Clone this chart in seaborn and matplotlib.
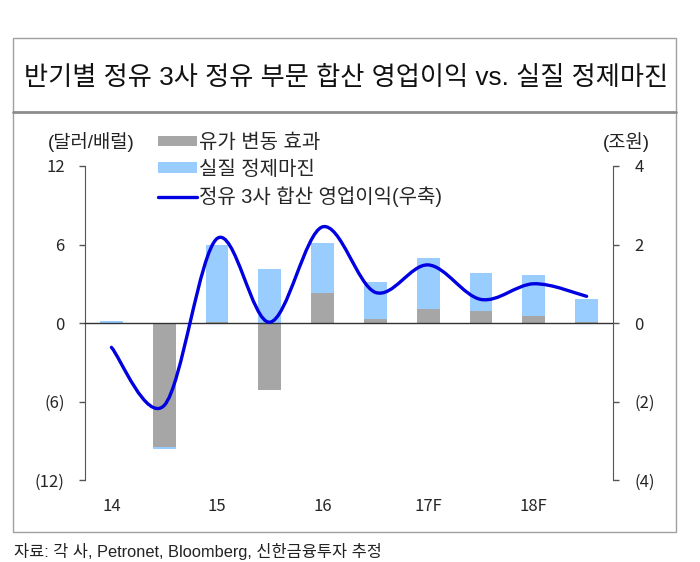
import numpy as np
import pandas as pd
import seaborn as sns
import matplotlib.pyplot as plt
from matplotlib.path import Path
from matplotlib.patches import PathPatch, Patch, Rectangle
from matplotlib.lines import Line2D

# half-year periods, 2014 ~ 2018F
periods = ['1H14', '2H14', '1H15', '2H15', '1H16', '2H16', '1H17', '2H17', '1H18', '2H18']
year_labels = ['14', '15', '16', '17F', '18F']
# 달러/배럴 (left axis)
oil_effect = [0.0, -9.5, 0.1, -5.15, 2.3, 0.3, 1.1, 0.9, 0.55, 0.05]
real_margin = [0.15, -0.1, 5.9, 4.15, 3.85, 2.8, 3.9, 2.95, 3.15, 1.8]
# 조원 (right axis)
op_profit = [-0.62, -2.1, 2.15, 0.02, 2.45, 0.78, 1.48, 0.6, 1.0, 0.68]

GREY = '#A6A6A6'
LIGHT_BLUE = '#99CCFF'
LINE_BLUE = '#0000E0'
AX_COLOR = '#555555'

sns.set_style('white')
plt.rcParams['font.family'] = ['Liberation Sans Narrow', 'Noto Sans CJK KR', 'DejaVu Sans']
KR = ['Liberation Sans', 'Noto Sans CJK KR', 'DejaVu Sans']


def smooth_path(xs, ys):
    # excel style smoothed line, cubic bezier segments through every point
    pts = np.column_stack([xs, ys]).astype(float)
    n = len(pts)
    verts = [pts[0]]
    codes = [Path.MOVETO]
    for i in range(n - 1):
        p0 = pts[max(i - 1, 0)]
        p1 = pts[i]
        p2 = pts[i + 1]
        p3 = pts[min(i + 2, n - 1)]
        verts += [p1 + (p2 - p0) / 6, p2 - (p3 - p1) / 6, p2]
        codes += [Path.CURVE4] * 3
    return Path(verts, codes)


df = pd.DataFrame({'period': periods, 'oil': oil_effect, 'margin': real_margin})
same_sign = np.sign(df['oil']) == np.sign(df['margin'])
df['margin_end'] = df['margin'] + np.where(same_sign, df['oil'], 0)

fig = plt.figure(figsize=(7, 5.62), dpi=100)
W, H = 700, 562
ax = fig.add_axes([85 / W, 1 - 480 / H, (613 - 85) / W, (480 - 166) / H])

sns.barplot(data=df, x='period', y='margin_end', color=LIGHT_BLUE, saturation=1,
            width=0.43, linewidth=0, edgecolor='none', ax=ax)
sns.barplot(data=df, x='period', y='oil', color=GREY, saturation=1,
            width=0.43, linewidth=0, edgecolor='none', ax=ax)

ax.set_xlim(-0.5, len(periods) - 0.5)
ax.set_ylim(-12, 12)
ax.set_yticks([-12, -6, 0, 6, 12], ['(12)', '(6)', '0', '6', '12'])
ax.set_xlabel('')
ax.set_ylabel('')
ax.tick_params(axis='y', length=4.5, width=1, color=AX_COLOR, pad=10, labelsize=12)

# zero line with ticks between periods
ax.spines['bottom'].set_position(('data', 0))
ax.spines['bottom'].set_color('#333333')
ax.spines['bottom'].set_linewidth(1)
ax.set_xticks(np.arange(len(periods) - 1) + 0.5)
ax.set_xticklabels([])
ax.tick_params(axis='x', length=4.5, width=1, color=AX_COLOR, direction='out')
ax.spines['top'].set_visible(False)
ax.spines['right'].set_visible(False)
ax.spines['left'].set_color(AX_COLOR)

sec = ax.secondary_xaxis('bottom')
sec.set_xticks(np.arange(0, len(periods), 2), year_labels)
sec.tick_params(length=0, pad=13, labelsize=12)
sec.spines['bottom'].set_visible(False)

ax2 = ax.twinx()
ax2.set_ylim(-4, 4)
ax2.set_yticks([-4, -2, 0, 2, 4], ['(4)', '(2)', '0', '2', '4'])
ax2.tick_params(axis='y', length=4.5, width=1, color=AX_COLOR, pad=11, labelsize=12)
for s in ['top', 'bottom', 'left']:
    ax2.spines[s].set_visible(False)
ax2.spines['right'].set_color(AX_COLOR)
ax2.add_patch(PathPatch(smooth_path(np.arange(len(periods)), op_profit),
                        fill=False, edgecolor=LINE_BLUE, lw=2.4, capstyle='round'))

# unit labels
fig.text(91 / W, 1 - 142 / H, '(달러/배럴)', ha='center', va='center',
         fontsize=13.5, family=KR, color='#222222')
fig.text(626 / W, 1 - 142 / H, '(조원)', ha='center', va='center',
         fontsize=13.5, family=KR, color='#222222')

handles = [Patch(facecolor=GREY, edgecolor='none'),
           Patch(facecolor=LIGHT_BLUE, edgecolor='none'),
           Line2D([], [], color=LINE_BLUE, lw=2.4)]
labels = ['유가 변동 효과', '실질 정제마진', '정유 3사 합산 영업이익(우축)']
fig.legend(handles, labels, loc='upper left', bbox_to_anchor=(158 / W, 1 - 133 / H),
           frameon=False, borderpad=0, borderaxespad=0, handlelength=1.95,
           handleheight=0.4, handletextpad=0.12, labelspacing=0.38,
           prop={'family': KR, 'size': 14.4})

# frame, title, source
fig.patches.append(Rectangle((13 / W, 1 - 532 / H), (676 - 13) / W, (532 - 38) / H,
                             transform=fig.transFigure, fill=False,
                             edgecolor='#A0A0A0', lw=1))
fig.lines.append(Line2D([13 / W, 676 / W], [1 - 112 / H, 1 - 112 / H],
                        transform=fig.transFigure, color='#8C8C8C', lw=2))
fig.text(346 / W, 1 - 78 / H, '반기별 정유 3사 정유 부문 합산 영업이익 vs. 실질 정제마진',
         ha='center', va='center', fontsize=18.9, family=KR, color='#111111')
fig.text(14 / W, 1 - 552 / H, '자료: 각 사, Petronet, Bloomberg, 신한금융투자 추정',
         ha='left', va='center', fontsize=11.8, family=KR, color='#222222')

fig.savefig('out.png', dpi=100)
